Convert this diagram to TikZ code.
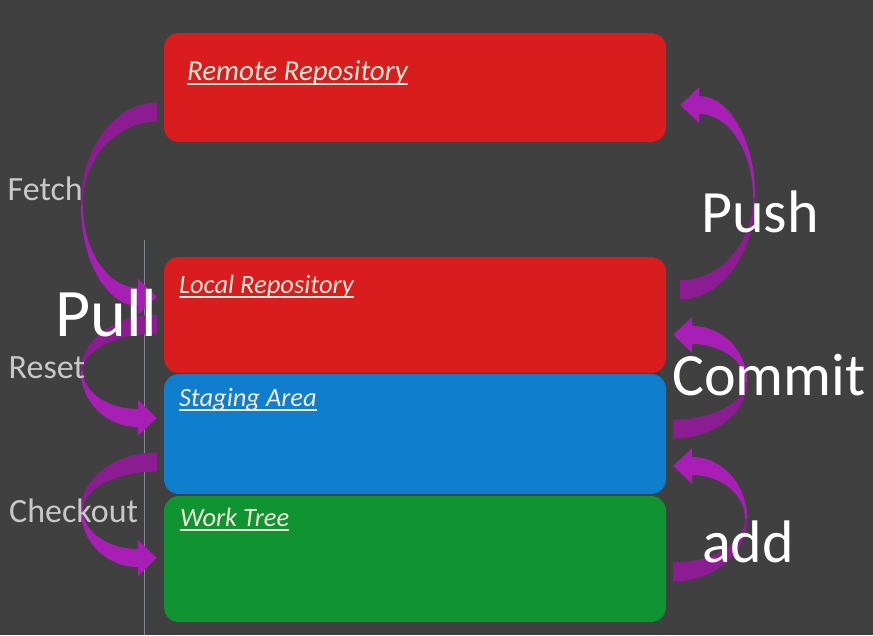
\documentclass[tikz,border=0pt]{standalone}
\usepackage{fontspec}
\setmainfont{Carlito}
\usepackage{tikz}
\usetikzlibrary{calc}
\definecolor{bggray}{RGB}{64,64,64}
\definecolor{repored}{RGB}{217,28,30}
\definecolor{stageblue}{RGB}{15,126,206}
\definecolor{treegreen}{RGB}{16,148,50}
\definecolor{labelcream}{RGB}{242,234,218}
\definecolor{sidegray}{RGB}{200,200,200}
\definecolor{banddark}{RGB}{140,28,146}
\definecolor{bandlight}{RGB}{168,31,182}
\definecolor{divgray}{RGB}{130,136,150}
\tikzstyle{box}=[rectangle,rounded corners=15pt,inner sep=0mm,minimum width=502pt]
\tikzstyle{boxlabel}=[anchor=base west,inner sep=0mm,text=labelcream,font=\fontsize{26.5}{30}\selectfont\itshape]
\tikzstyle{uline}=[draw=labelcream,line width=1.6pt]
\tikzstyle{sidelabel}=[anchor=base west,inner sep=0mm,text=sidegray,font=\fontsize{34}{40}\selectfont]
\tikzstyle{biglabel}=[anchor=base west,inner sep=0mm,text=white,font=\fontsize{60}{70}\selectfont]
\tikzstyle{bandback}=[fill=banddark]
\tikzstyle{bandfront}=[fill=bandlight]
\tikzset{every picture/.style={
    x=1pt,y=1pt
  }
}
% tail, tip, reach, side (-1 bends left and down, +1 bends right and up)
\newcommand\bandarrow[4]{%
  \path[bandback] let \p1=(#1), \p2=(#2), \n1={#3}, \n2={#4},
      \n3={0.5*(\y1+\y2)} in
    (\x1,{\y1-(\n2)*9.5pt})
    .. controls ({\x1+0.55*(\n1)},{\y1-(\n2)*9.5pt}) and ({\x1+(\n1)},{\n3+0.55*(\y1-(\n2)*9.5pt-\n3)}) ..
    ({\x1+(\n1)},\n3) -- ({\x1+(\n1)-(\n2)*2pt},\n3)
    .. controls ({\x1+(\n1)-(\n2)*2pt},{\n3+0.55*(\y1+(\n2)*9.5pt-\n3)}) and ({\x1+0.55*((\n1)-(\n2)*2pt)},{\y1+(\n2)*9.5pt}) ..
    (\x1,{\y1+(\n2)*9.5pt}) -- cycle;
  \path[bandfront] let \p1=(#1), \p2=(#2), \n1={#3}, \n2={#4},
      \n3={0.5*(\y1+\y2)}, \n4={\x2+(\n2)*19pt} in
    ({\x1+(\n1)},\n3)
    .. controls ({\x1+(\n1)},{\n3+0.55*(\y2+(\n2)*9pt-\n3)}) and ({\n4+0.55*(\x1+(\n1)-\n4)},{\y2+(\n2)*9pt}) ..
    (\n4,{\y2+(\n2)*9pt}) -- (\n4,{\y2+(\n2)*18pt}) -- (\x2,\y2)
    -- (\n4,{\y2-(\n2)*18pt}) -- (\n4,{\y2-(\n2)*9pt})
    .. controls ({\n4+0.55*(\x1+(\n1)-(\n2)*2pt-\n4)},{\y2-(\n2)*9pt}) and ({\x1+(\n1)-(\n2)*2pt},{\n3+0.55*(\y2-(\n2)*9pt-\n3)}) ..
    ({\x1+(\n1)-(\n2)*2pt},\n3) -- cycle;
}
\begin{document}
\begin{tikzpicture}
        \fill[bggray] (0,0) rectangle (873,-635);
        \useasboundingbox (0,0) rectangle (873,-635);
        \draw[divgray,line width=1pt] (144,-240) -- (144,-635);
        % the four areas
        \node[box,fill=repored,minimum height=109pt] at (415,-87.5) (remote) {};
        \node[box,fill=repored,minimum height=116pt] at (415,-315) (local) {};
        \node[box,fill=stageblue,minimum height=120pt] at (415,-434) (staging) {};
        \node[box,fill=treegreen,minimum height=126pt] at (415,-559) (work) {};
        \node[boxlabel,font=\fontsize{29}{33}\selectfont\itshape] at ($(remote.north west)+(23,-48)$) (remotelbl) {Remote Repository};
        \node[boxlabel] at ($(local.north west)+(15,-37)$) (locallbl) {Local Repository};
        \node[boxlabel] at ($(staging.north west)+(15,-33)$) (staginglbl) {Staging Area};
        \node[boxlabel] at ($(work.north west)+(16,-31)$) (worklbl) {Work Tree};
        \draw[uline] ([yshift=-3pt]remotelbl.base west) -- ([yshift=-3pt]remotelbl.base east);
        \draw[uline] ([yshift=-3pt]locallbl.base west) -- ([yshift=-3pt]locallbl.base east);
        \draw[uline] ([yshift=-3pt]staginglbl.base west) -- ([yshift=-3pt]staginglbl.base east);
        \draw[uline] ([yshift=-3pt]worklbl.base west) -- ([yshift=-3pt]worklbl.base east);
        % arrow ends
        \coordinate (fetcht) at ($(remote.south west)+(-7,30)$);
        \coordinate (fetchh) at ($(local.north west)+(-7,-40)$);
        \coordinate (resett) at ($(local.west)+(-7,-9)$);
        \coordinate (reseth) at ($(staging.west)+(-7,16)$);
        \coordinate (checkt) at ($(staging.west)+(-7,-28)$);
        \coordinate (checkh) at ($(work.west)+(-7,1)$);
        \coordinate (pusht) at ($(local.north east)+(14,-33)$);
        \coordinate (pushh) at ($(remote.east)+(14,-17.5)$);
        \coordinate (committ) at ($(staging.east)+(7,5)$);
        \coordinate (commith) at ($(local.east)+(7,-20)$);
        \coordinate (addt) at ($(work.east)+(7,-13)$);
        \coordinate (addh) at ($(staging.east)+(7,-32)$);
        \bandarrow{fetcht}{fetchh}{-76pt}{-1}
        \bandarrow{resett}{reseth}{-76pt}{-1}
        \bandarrow{checkt}{checkh}{-76pt}{-1}
        \bandarrow{pusht}{pushh}{75pt}{1}
        \bandarrow{committ}{commith}{74pt}{1}
        \bandarrow{addt}{addh}{74pt}{1}
        % commands
        \node[sidelabel] at (7.5,-200) (fetch) {Fetch};
        \node[sidelabel] at (8.5,-378) (reset) {Reset};
        \node[sidelabel] at (9,-522) (checkout) {Checkout};
        \node[biglabel,font=\fontsize{68}{78}\selectfont] at (55,-336) (pull) {Pull};
        \node[biglabel] at (701,-232) (push) {Push};
        \node[biglabel] at (672,-395) (commit) {Commit};
        \node[biglabel] at (702,-562) (add) {add};
      \end{tikzpicture}
\end{document}
